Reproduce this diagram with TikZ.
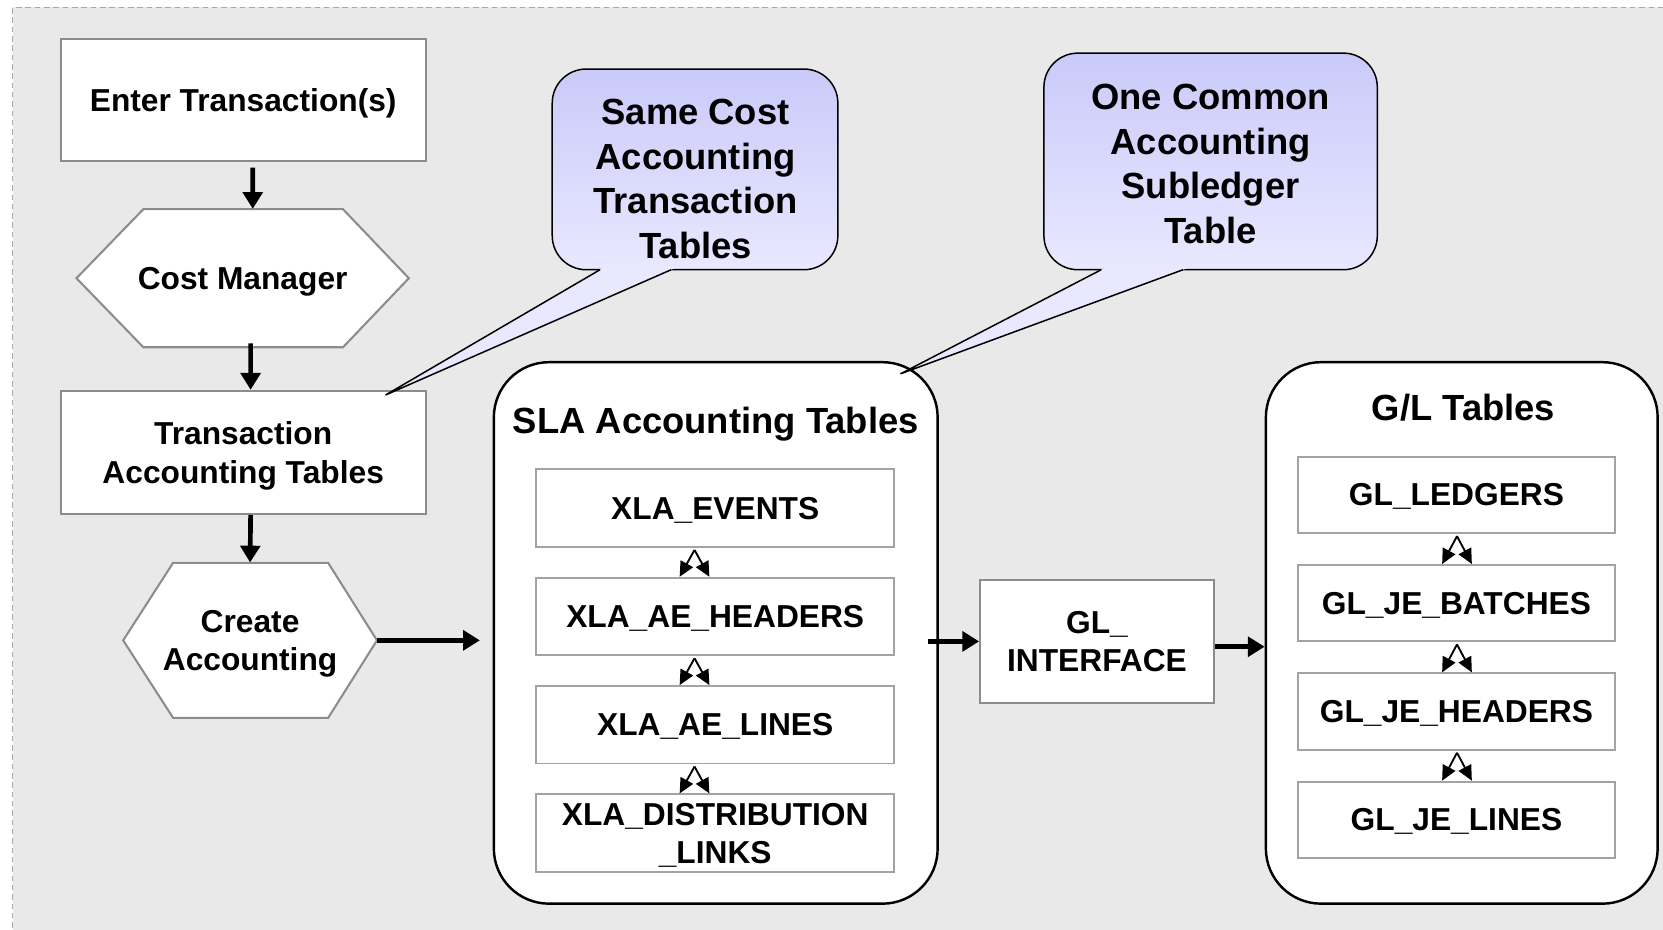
\documentclass[tikz,border=0pt]{standalone}
\usepackage{fontspec}
\setmainfont{Liberation Sans}
\usetikzlibrary{positioning,calc,arrows.meta}

\definecolor{bggray}{HTML}{E9E9E9}
\definecolor{framegray}{HTML}{A8A8A8}
\definecolor{edgegray}{HTML}{8C8C8C}
\definecolor{tablegray}{HTML}{A3A3A3}
\definecolor{calltop}{HTML}{CACAFA}
\definecolor{callbottom}{HTML}{E8E8FF}

\tikzset{
    stepbox/.style={draw=edgegray, line width=1.1pt, fill=white, inner sep=0pt, text depth=0pt,
        align=center, font=\fontsize{17}{20.5}\selectfont\bfseries},
    hexline/.style={draw=edgegray, line width=1.1pt, fill=white},
    hextext/.style={inner sep=0pt, text depth=0pt, align=center, font=\fontsize{17}{20.5}\selectfont\bfseries},
    groupbox/.style={draw=black, line width=1.3pt, fill=white, rounded corners=1.04cm},
    grouptitle/.style={inner sep=0pt, text depth=0pt, font=\fontsize{19.5}{23}\selectfont\bfseries},
    tablebox/.style={draw=tablegray, line width=1pt, fill=white, inner sep=0pt, text depth=0pt, align=center,
        minimum width=6.74cm, minimum height=1.46cm, font=\fontsize{17}{20.5}\selectfont\bfseries},
    gltable/.style={tablebox, minimum width=5.98cm, minimum height=1.44cm},
    callbox/.style={draw=black, line width=0.8pt, rounded corners=0.64cm,
        top color=calltop, bottom color=callbottom},
    calledge/.style={draw=black, line width=0.8pt},
    calltext/.style={inner sep=0pt, align=center, font=\fontsize{19.5}{23.8}\selectfont\bfseries},
    flow/.style={line width=2.5pt, -{Triangle[length=9pt,width=10.5pt]}},
    linkarrow/.style={line width=1pt, -{Triangle[length=8pt,width=7.5pt]}}
}

\begin{document}
\begin{tikzpicture}[x=0.02cm, y=-0.02cm]
    \clip (0,0) rectangle (1566,875);
    \fill[bggray] (12,7) rectangle (1600,900);
    \draw[framegray, line width=0.8pt, dash pattern=on 3pt off 2pt] (12,900) -- (12,7) -- (1600,7);

    % left flow
    \node[stepbox, minimum width=6.88cm, minimum height=2.3cm] (enter) at (229,94.5) {Enter Transaction(s)};
    \draw[hexline] (72,262) -- (135,197) -- (323,197) -- (385,262) -- (323,327) -- (135,327) -- cycle;
    \node[hextext, minimum width=6.26cm, minimum height=2.6cm] (costmgr) at (228.5,262) {Cost Manager};
    \node[stepbox, minimum width=6.88cm, minimum height=2.32cm] (trans) at (229,426) {Transaction\\Accounting Tables};
    \draw[hexline] (116,603) -- (163,530) -- (309,530) -- (355,603) -- (309,676) -- (163,676) -- cycle;
    \node[hextext, minimum width=4.78cm, minimum height=2.92cm] (create) at (235.5,603) {Create\\Accounting};

    \draw[flow] ($(enter.south)+(9,5)$) -- ($(costmgr.north)+(9.5,0)$);
    \draw[flow] ($(costmgr.south)+(7.5,-4)$) -- ($(trans.north)+(7,0)$);
    \draw[flow] ($(trans.south)+(7,0)$) -- (create.north);

    % SLA tables
    \node[groupbox, minimum width=8.36cm, minimum height=10.2cm] (sla) at (674,596) {};
    \node[grouptitle] (slatitle) at (674,396) {SLA Accounting Tables};
    \node[tablebox] (xlaev) at (673.5,478.5) {XLA\_EVENTS};
    \node[tablebox] (xlahd) at (673.5,580.5) {XLA\_AE\_HEADERS};
    \node[tablebox] (xlaln) at (673.5,682.5) {XLA\_AE\_LINES};
    \node[tablebox] (xladl) at (673.5,784.5) {XLA\_DISTRIBUTION\\\_LINKS};
    \foreach \a/\b in {xlaev/xlahd, xlahd/xlaln, xlaln/xladl} {
        \coordinate (apex) at ($(\a.south)+(-19.5,2)$);
        \draw[linkarrow] (apex) -- ($(\b.north)+(-33.5,0)$);
        \draw[linkarrow] (apex) -- ($(\b.north)+(-5.5,0)$);
    }

    \draw[flow, shorten >=0.24cm] (create.east) -- (sla.west |- create.east);

    % interface
    \node[stepbox, minimum width=4.4cm, minimum height=2.32cm] (gliface) at (1033,604) {GL\_\\INTERFACE};
    \draw[flow] ($(sla.east |- gliface.west)+(-10,0)$) -- (gliface.west);

    % G/L tables
    \node[groupbox, minimum width=7.38cm, minimum height=10.2cm] (gl) at (1376.5,596) {};
    \node[grouptitle] (gltitle) at (1378,384) {G/L Tables};
    \node[gltable] (gllg) at (1371.5,466) {GL\_LEDGERS};
    \node[gltable] (glbt) at (1371.5,568) {GL\_JE\_BATCHES};
    \node[gltable] (glhd) at (1371.5,670) {GL\_JE\_HEADERS};
    \node[gltable] (glln) at (1371.5,772) {GL\_JE\_LINES};
    \foreach \a/\b in {gllg/glbt, glbt/glhd, glhd/glln} {
        \coordinate (apex) at ($(\a.south)+(0.5,2)$);
        \draw[linkarrow] (apex) -- ($(\b.north)+(-13.5,0)$);
        \draw[linkarrow] (apex) -- ($(\b.north)+(14.5,0)$);
    }

    \draw[flow] ($(gliface.east)+(0,5)$) -- ($(gl.west |- gliface.east)+(0,5)$);

    % callouts
    \node[callbox, minimum width=5.38cm, minimum height=3.78cm] (samecost) at (654.5,159.5) {};
    \coordinate (samecosttip) at (363,372);
    \fill[callbottom] (571.6,250) -- (samecosttip) -- (641.1,250) -- cycle;
    \draw[calledge] (565,254) -- (samecosttip) -- (632,254);
    \node[calltext] (samecosttext) at (655,168.5) {Same Cost\\Accounting\\Transaction\\Tables};

    \node[callbox, minimum width=6.28cm, minimum height=4.08cm] (common) at (1140,152) {};
    \coordinate (commontip) at (848,352);
    \fill[callbottom] (1044.7,250) -- (commontip) -- (1124.9,250) -- cycle;
    \draw[calledge] (1037,254) -- (commontip) -- (1114,254);
    \node[calltext] (commontext) at (1140,154.5) {One Common\\Accounting\\Subledger\\Table};
\end{tikzpicture}
\end{document}
